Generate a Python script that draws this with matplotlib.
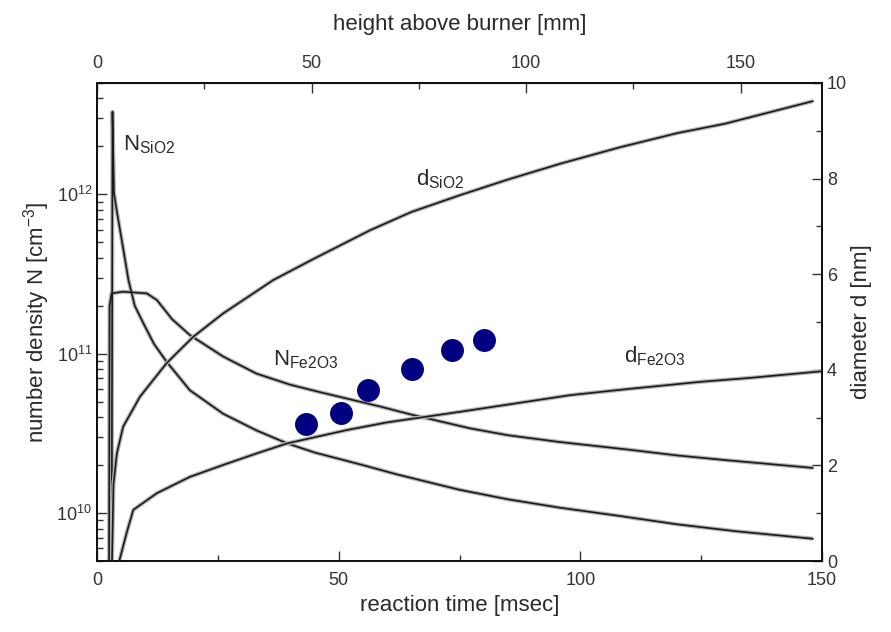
import numpy as np
import matplotlib
matplotlib.use("Agg")
import matplotlib.pyplot as plt
from matplotlib.ticker import MultipleLocator, LogLocator, NullFormatter, FixedLocator

plt.rcParams['font.family'] = ['Liberation Sans', 'DejaVu Sans']
plt.rcParams['mathtext.fontset'] = 'custom'
plt.rcParams['mathtext.rm'] = 'Liberation Sans'

# number density of SiO2 particles [cm^-3] vs reaction time [msec]
t_n_sio2 = [3.0, 3.2, 3.5, 4.2, 5.1, 6.5, 7.8, 9.6, 11.8, 14.4, 19.2, 26.1, 33.0, 39.3,
            45.0, 55.0, 62.0, 75.0, 85.0, 95.8, 108.0, 120.0, 132.0, 148.1]
n_sio2 = [1e9, 3.3e12, 1.02e12, 7.5e11, 5.2e11, 2.9e11, 2.0e11, 1.55e11, 1.15e11, 8.9e10,
          5.9e10, 4.2e10, 3.3e10, 2.74e10, 2.4e10, 2.0e10, 1.75e10, 1.4e10, 1.22e10,
          1.08e10, 9.6e9, 8.5e9, 7.7e9, 6.9e9]

# number density of Fe2O3 particles
t_n_fe2o3 = [2.45, 2.6, 3.0, 5.4, 10.3, 12.4, 15.5, 19.2, 26.1, 33.0, 39.9, 46.0, 58.6,
             65.0, 77.2, 85.0, 95.8, 110.0, 120.0, 130.0, 148.1]
n_fe2o3 = [1e9, 2.0e11, 2.39e11, 2.45e11, 2.39e11, 2.17e11, 1.65e11, 1.31e11, 9.6e10,
           7.5e10, 6.4e10, 5.75e10, 4.66e10, 4.15e10, 3.4e10, 3.08e10, 2.79e10, 2.5e10,
           2.3e10, 2.15e10, 1.92e10]

# diameter of SiO2 particles [nm]
t_d_sio2 = [3.1, 3.4, 4.1, 5.4, 8.9, 14.4, 19.9, 26.1, 36.5, 45.0, 56.5, 65.0, 75.0, 85.0,
            95.8, 108.0, 120.0, 130.0, 148.1]
d_sio2 = [0.0, 1.6, 2.25, 2.81, 3.44, 4.14, 4.69, 5.18, 5.88, 6.33, 6.92, 7.3, 7.65, 7.98,
          8.31, 8.65, 8.95, 9.15, 9.62]

# diameter of Fe2O3 particles [nm]
t_d_fe2o3 = [4.6, 6.1, 7.5, 12.4, 19.2, 26.1, 33.0, 39.3, 51.7, 60.0, 75.0, 97.9, 110.0,
             125.0, 135.0, 150.0]
d_fe2o3 = [0.0, 0.58, 1.07, 1.42, 1.76, 2.01, 2.25, 2.46, 2.74, 2.9, 3.12, 3.47, 3.6,
           3.75, 3.83, 3.97]

# measured diameters (dots)
t_meas = [43.2, 50.5, 56.1, 65.1, 73.4, 80.1]
d_meas = [2.86, 3.10, 3.58, 4.01, 4.41, 4.62]

T_MAX = 150.0
H_MAX = 169.0  # height above burner at T_MAX
height_ticks = [0, 50, 100, 150]
height_minor = [25, 75, 125]

fig = plt.figure(figsize=(8.91, 6.32), dpi=100)
ax = fig.add_axes([0.1089, 0.1123, 0.8137, 0.7564])
ax2 = ax.twinx()


def draw_curve(axis, x, y):
    # grey halo under a dark line, like the scanned original
    axis.plot(x, y, color='#b4b4b4', lw=3.0, solid_capstyle='butt', zorder=2)
    axis.plot(x, y, color='#1a1a1a', lw=1.2, zorder=3)


draw_curve(ax, t_n_sio2, n_sio2)
draw_curve(ax, t_n_fe2o3, n_fe2o3)
draw_curve(ax2, t_d_sio2, d_sio2)
draw_curve(ax2, t_d_fe2o3, d_fe2o3)
ax2.plot(t_meas, d_meas, 'o', color='#000080', markersize=15.5, zorder=5)

ax.set_yscale('log')
ax.set_ylim(5e9, 5e12)
ax.set_xlim(0, T_MAX)
ax2.set_ylim(0, 10)

tick_color = '#333333'
ax.xaxis.set_major_locator(MultipleLocator(50))
ax.xaxis.set_minor_locator(MultipleLocator(25))
ax.yaxis.set_major_locator(LogLocator(base=10))
ax.yaxis.set_minor_locator(LogLocator(base=10, subs=np.arange(2, 10)))
ax.yaxis.set_minor_formatter(NullFormatter())
ax.tick_params(which='both', direction='in', labelsize=13, colors=tick_color, width=1.0)
ax.tick_params(which='major', length=7)
ax.tick_params(which='minor', length=4)
ax.tick_params(axis='x', pad=8)

ax2.yaxis.set_major_locator(MultipleLocator(2))
ax2.yaxis.set_minor_locator(MultipleLocator(1))
ax2.tick_params(which='both', direction='in', labelsize=13, colors=tick_color, width=1.0)
ax2.tick_params(which='major', length=7)
ax2.tick_params(which='minor', length=4)

secax = ax.secondary_xaxis('top', functions=(lambda t: t * H_MAX / T_MAX,
                                             lambda h: h * T_MAX / H_MAX))
secax.xaxis.set_major_locator(FixedLocator(height_ticks))
secax.xaxis.set_minor_locator(FixedLocator(height_minor))
secax.tick_params(which='both', direction='in', labelsize=13, colors=tick_color, width=1.0, pad=8)
secax.tick_params(which='major', length=7)
secax.tick_params(which='minor', length=4)

for a in (ax, ax2):
    for s in a.spines.values():
        s.set_linewidth(1.4)
        s.set_color('#111111')

label_color = '#2a2a2a'
ax.set_xlabel('reaction time [msec]', fontsize=16, color=label_color, labelpad=4)
ax.set_ylabel('number density N [cm$^{-3}$]', fontsize=16, color=label_color, labelpad=3)
ax2.set_ylabel('diameter d [nm]', fontsize=16, color=label_color, labelpad=3)
secax.set_xlabel('height above burner [mm]', fontsize=16, color=label_color, labelpad=18)

# curve labels
ax2.text(5.4, 8.6, r'N$_{\mathrm{SiO2}}$', fontsize=16, color=label_color)
ax2.text(66.0, 7.85, r'd$_{\mathrm{SiO2}}$', fontsize=16, color=label_color)
ax2.text(36.5, 4.1, r'N$_{\mathrm{Fe2O3}}$', fontsize=16, color=label_color)
ax2.text(109.0, 4.15, r'd$_{\mathrm{Fe2O3}}$', fontsize=16, color=label_color)

fig.savefig('out.png', dpi=100)
